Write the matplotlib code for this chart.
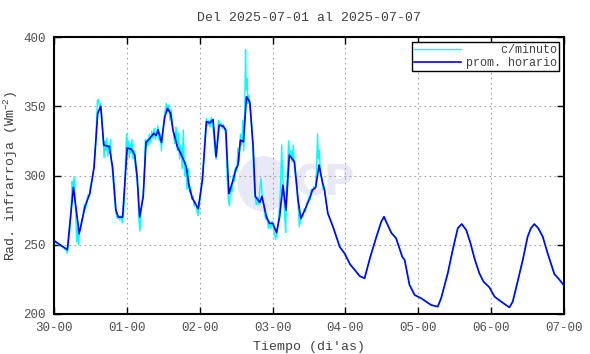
import numpy as np
import matplotlib
matplotlib.use("Agg")
import matplotlib.pyplot as plt
from matplotlib.patches import Ellipse

# fuentes
plt.rcParams["font.family"] = ["Liberation Mono", "DejaVu Sans Mono"]
plt.rcParams["mathtext.default"] = "regular"

# datos (horas desde 30-00, W/m2)
hora_prom = [0, 4.4, 6.4, 8.3, 10.2, 11.8, 13.2, 14.4, 15.4, 16.4, 18.2, 19.3, 20.4, 21.2,
             22.6, 24.1, 25.5, 26.6, 27.4, 28.2, 29.4, 30.3, 31.6, 32.9, 33.6, 34.3, 35.4,
             36.5, 37.4, 38.4, 39.2, 40.6, 42.5, 43.6, 44.5, 45.6, 47.5, 48.9, 50.2, 51.3,
             52.4, 53.4, 54.4, 55.7, 56.6, 57.6, 59.0, 59.8, 60.6, 61.4, 62.4, 63.4, 64.5,
             65.6, 66.3, 67.8, 68.5, 70.0, 71.0, 72.1, 73.3, 74.3, 75.4, 76.4, 77.5, 79.2,
             80.4, 81.3, 82.6, 84.2, 85.1, 86.2, 87.3, 88.4, 89.1, 90.2, 91.9, 94.1, 95.7,
             97.5, 99.0, 100.7, 102.3, 104.2, 106.2, 107.8, 108.7, 109.4, 111.1, 112.7,
             114.7, 115.5, 117.1, 118.8, 121.0, 122.6, 124.2, 126.4, 127.5, 129.7, 131.4,
             133.0, 134.3, 135.8, 137.2, 138.5, 140.1, 141.5, 143.4, 145.1, 147.0, 148.4,
             150.0, 151.1, 152.7, 154.4, 156.0, 157.1, 158.2, 159.5, 161.0, 162.6, 164.8,
             166.4, 168.0]
val_prom = [253, 246.5, 291.5, 258, 277.5, 287, 306, 345, 350, 322, 321, 306, 275, 270,
            270, 320, 319, 315, 299, 270, 285, 324, 327, 330.5, 329, 333, 324,
            342.5, 348.5, 345, 333, 321, 312.4, 306, 292, 283.5, 276, 297, 339, 338,
            340.5, 313.6, 336.5, 335.7, 333, 287, 296.8, 304, 307.6, 325.6, 324.4, 357, 353,
            321, 285, 280.6, 285, 270, 265.5, 265.5, 258.7, 270, 293, 275, 314.8, 310,
            282.3, 269, 275, 283.5, 289.5, 291.5, 307.6, 295.5, 289.5, 272.7, 263, 248.6, 243.8,
            236, 232, 227.4, 225.8, 241.4, 255.8, 266.7, 270.3, 266.7, 258.7, 254.7,
            241.4, 239, 221, 213.7, 211.3, 208.9, 206.5, 205.3, 211.3, 229.4, 247,
            262, 265, 260.6, 251, 240.2, 229.4, 223.3, 219.3, 212.5, 209.4, 207.2,
            204.8, 208.9, 223.3, 239, 255.8, 262, 265, 262, 255.8, 243.8, 228.9,
            225, 220.5]

hora_min = [0, 0.5, 1, 1.5, 2, 2.5, 3, 3.5, 4, 4.4, 4.8, 5.2, 5.6, 6.0, 6.3, 6.6, 6.9, 7.2,
            7.5, 7.8, 8.1, 8.4, 8.8, 9.2, 9.6, 10.0, 10.4, 10.8, 11.2, 11.6, 12.0, 12.4, 12.8,
            13.2, 13.6, 14.0, 14.3, 14.6, 15.0, 15.4, 15.8, 16.2, 16.5, 16.8, 17.1, 17.4, 17.7,
            18.0, 18.3, 18.6, 18.9, 19.3, 19.7, 20.1, 20.5, 20.9, 21.3, 21.7, 22.1, 22.5, 22.9,
            23.3, 23.6, 23.9, 24.2, 24.5, 24.8, 25.1, 25.4, 25.7, 26.0, 26.4, 26.8, 27.2, 27.6,
            28.0, 28.3, 28.6, 29.0, 29.4, 29.8, 30.1, 30.4, 30.7, 31.0, 31.4, 31.8, 32.2, 32.6,
            33.0, 33.4, 33.8, 34.2, 34.6, 35.0, 35.4, 35.8, 36.2, 36.6, 37.0, 37.4, 37.8, 38.2,
            38.6, 39.0, 39.4, 39.8, 40.2, 40.6, 41.0, 41.4, 41.8, 42.2, 42.6, 43.0, 43.4, 43.8,
            44.2, 44.6, 45.0, 45.4, 45.8, 46.2, 46.6, 47.0, 47.4, 47.8, 48.2, 48.6, 49.0, 49.4,
            49.8, 50.2, 50.6, 51.0, 51.4, 51.8, 52.2, 52.6, 53.0, 53.4, 53.8, 54.2, 54.6, 55.0,
            55.4, 55.8, 56.2, 56.6, 57.0, 57.4, 57.8, 58.2, 58.6, 59.0, 59.4, 59.8, 60.2, 60.6,
            61.0, 61.4, 61.8, 62.2, 62.5, 62.8, 63.1, 63.3, 63.6, 63.9, 64.2, 64.6, 65.0, 65.4,
            65.8, 66.2, 66.6, 67.0, 67.4, 67.8, 68.2, 68.6, 69.0, 69.4, 69.8, 70.2, 70.6, 71.0,
            71.4, 71.8, 72.2, 72.6, 73.0, 73.4, 73.8, 74.2, 74.6, 75.0, 75.3, 75.6, 76.0, 76.3,
            76.6, 77.0, 77.3, 77.6, 78.0, 78.4, 78.8, 79.2, 79.6, 80.0, 80.4, 80.8, 81.2, 81.6,
            82.0, 82.4, 82.8, 83.2, 83.6, 84.0, 84.4, 84.8, 85.2, 85.6, 86.0, 86.4, 86.8, 87.1,
            87.4, 87.8, 88.2, 88.6, 89.0, 89.4, 89.8]
val_min = [254, 252, 251, 250, 250, 249, 248, 247, 246, 244, 252, 260, 275, 296, 288, 299, 285, 270,
           252, 262, 250, 260, 262, 268, 272, 279, 276, 282, 286, 285, 292, 296, 300,
           308, 320, 338, 354, 355, 350, 352, 340, 328, 313, 325, 318, 327, 314,
           322, 316, 326, 310, 302, 290, 278, 272, 269, 271, 268, 271, 266, 272,
           290, 315, 330, 318, 325, 313, 323, 316, 326, 312, 318, 306, 300, 290,
           268, 260, 272, 280, 288, 305, 326, 320, 326, 322, 330, 324, 332, 327,
           334, 326, 330, 336, 325, 330, 318, 333, 340, 347, 352, 346, 351, 340,
           348, 335, 330, 323, 335, 318, 331, 312, 322, 305, 333, 300, 310, 290,
           305, 288, 292, 283, 285, 278, 281, 276, 271, 278, 285, 295, 302, 315,
           330, 341, 336, 340, 335, 342, 338, 330, 318, 312, 325, 340, 336, 338,
           334, 337, 333, 330, 300, 283, 278, 292, 288, 300, 296, 306, 303, 320,
           310, 330, 322, 340, 318, 345, 391, 362, 370, 352, 358, 350, 340, 325,
           300, 285, 279, 284, 279, 290, 298, 285, 280, 272, 268, 271, 262, 266,
           262, 267, 263, 258, 254, 258, 265, 275, 290, 322, 300, 290, 270, 259,
           285, 310, 325, 315, 318, 310, 322, 305, 298, 290, 278, 263, 268, 272,
           270, 276, 274, 280, 281, 285, 283, 290, 288, 292, 290, 300, 330, 312,
           318, 300, 298, 290, 292, 285, 278]

etiquetas_x = ["30-00", "01-00", "02-00", "03-00", "04-00", "05-00", "06-00", "07-00"]

# la serie por minuto sigue a la horaria a partir del dia 04
corte = 75
t_min = np.concatenate([hora_min, hora_prom[corte:]])
v_min = np.concatenate([val_min, val_prom[corte:]])

fig = plt.figure(figsize=(5.9, 3.54), dpi=100)
ax = fig.add_axes([0.0915, 0.113, 0.8645, 0.782])

# marca de agua
ax.add_patch(Ellipse((69, 294), 17, 40, color="#e8e8f6", zorder=0, lw=0))
ax.text(89, 294, "CP", fontsize=30, fontweight="bold", family="DejaVu Sans",
        color="#e8e8f6", ha="center", va="center", zorder=0)

ax.plot(t_min, v_min, color="#00ffff", lw=1.0, label="     c/minuto", zorder=2)
ax.plot(hora_prom, val_prom, color="#0000ff", lw=1.2, label="prom. horario", zorder=3)

ax.set_xlim(0, 168)
ax.set_ylim(200, 400)
ax.set_xticks(np.arange(0, 169, 24))
ax.set_xticklabels(etiquetas_x)
ax.set_yticks(np.arange(200, 401, 50))
ax.grid(True, linestyle=(0, (1.5, 3)), color="#a0a0a0", lw=0.8)
ax.tick_params(direction="in", top=True, right=True, length=5, width=1,
               labelsize=9, labelcolor="#505050", pad=6)
for s in ax.spines.values():
    s.set_linewidth(1.5)

ax.set_title("Del 2025-07-01 al 2025-07-07", fontsize=9.5, color="#404040", pad=12)
ax.set_xlabel("Tiempo (di'as)", fontsize=9.5, color="#404040", labelpad=5)
ax.set_ylabel("Rad. infrarroja (Wm$^{-2}$)", fontsize=9.5, color="#404040", labelpad=2)

leg = ax.legend(loc="upper right", fontsize=8.5, frameon=True, fancybox=False,
                edgecolor="black", framealpha=1, handlelength=4, handletextpad=0.4,
                borderpad=0.2, labelspacing=0.05, borderaxespad=0.4)
leg.get_frame().set_linewidth(1)
for t in leg.get_texts():
    t.set_color("#404040")

fig.savefig("out.png", dpi=100)
